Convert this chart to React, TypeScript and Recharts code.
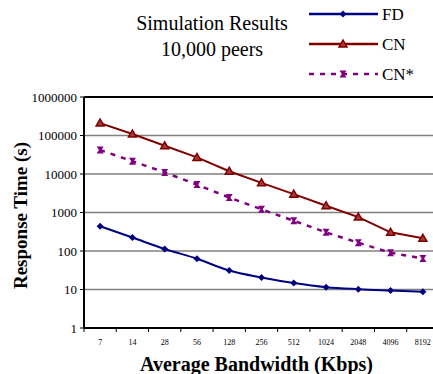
import React from 'react';
import { LineChart, Line, XAxis, YAxis, CartesianGrid, ReferenceLine } from 'recharts';

const categories = ['7', '14', '28', '56', '128', '256', '512', '1024', '2048', '4096', '8192'];
const fdValues = [440, 224, 113, 63, 31, 20.5, 14.7, 11.5, 10.2, 9.4, 8.7];
const cnValues = [210000, 109000, 54000, 27000, 11800, 5900, 3000, 1500, 760, 305, 213];
const cnStarValues = [42000, 21500, 11000, 5300, 2440, 1210, 610, 305, 164, 90, 64];
const yTicks = [1, 10, 100, 1000, 10000, 100000, 1000000];

const FD_COLOR = '#000080';
const CN_COLOR = '#800000';
const CNS_COLOR = '#800080';
const SERIF = '"Liberation Serif", "Times New Roman", serif';

const data = categories.map((c, i) => ({
  i,
  c,
  fd: fdValues[i],
  cn: cnValues[i],
  cnStar: cnStarValues[i],
}));

// tick marks sit between categories, labels sit in the middle of each band
const boundaryTicks = [...categories.map((_, i) => i - 0.5), categories.length - 0.5];

const Diamond = ({ cx, cy, color }: any) => (
  <polygon points={`${cx},${cy - 3.5} ${cx + 3.5},${cy} ${cx},${cy + 3.5} ${cx - 3.5},${cy}`} fill={color} />
);
const Triangle = ({ cx, cy, color }: any) => (
  <polygon
    points={`${cx},${cy - 4} ${cx + 4},${cy + 3} ${cx - 4},${cy + 3}`}
    fill="#a83a3a"
    stroke={color}
    strokeWidth={1.5}
  />
);
const BowTie = ({ cx, cy, color }: any) => (
  <path
    d={`M${cx - 3.5},${cy - 3.5} L${cx + 3.5},${cy - 3.5} L${cx + 1.2},${cy} L${cx + 3.5},${cy + 3.5} L${cx - 3.5},${cy + 3.5} L${cx - 1.2},${cy} Z`}
    fill={color}
  />
);

const BandTick = (props: any) => {
  const { x, y, payload, width } = props;
  const idx = payload.value + 0.5;
  if (idx >= categories.length) return null;
  const half = width ? width / categories.length / 2 : 16;
  return (
    <text x={x + half} y={y + 11} textAnchor="middle" fontSize={8} fontFamily={SERIF} fill="#000">
      {categories[idx]}
    </text>
  );
};

function Legend() {
  const rows = [
    { name: 'FD', color: FD_COLOR, y: 14, dash: undefined, Mark: Diamond },
    { name: 'CN', color: CN_COLOR, y: 44, dash: undefined, Mark: Triangle },
    { name: 'CN*', color: CNS_COLOR, y: 74, dash: '5 6', Mark: BowTie },
  ];
  return (
    <svg width={433} height={90} style={{ position: 'absolute', left: 0, top: 0 }}>
      {rows.map(({ name, color, y, dash, Mark }) => (
        <g key={name}>
          <line x1={309} x2={378} y1={y} y2={y} stroke={color} strokeWidth={2.5} strokeDasharray={dash} />
          <Mark cx={343} cy={y} color={color} />
          <text x={382} y={y + 6} fontSize={17} fontFamily={SERIF} fill="#000">
            {name}
          </text>
        </g>
      ))}
    </svg>
  );
}

export default function App() {
  return (
    <div
      style={{
        position: 'fixed',
        left: 0,
        top: 0,
        width: 433,
        height: 374,
        overflow: 'hidden',
        background: '#fff',
        fontFamily: SERIF,
      }}
    >
      <div
        style={{
          position: 'absolute',
          left: 112,
          width: 200,
          top: 10,
          textAlign: 'center',
          fontSize: 20,
          lineHeight: '26px',
          color: '#000',
        }}
      >
        Simulation Results
        <br />
        10,000 peers
      </div>
      <Legend />
      <div style={{ position: 'absolute', left: 0, top: 0 }}>
        <LineChart width={445} height={374} data={data} margin={{ top: 97, right: 6, bottom: 0, left: 0 }}>
          <CartesianGrid horizontal vertical={false} stroke="#808080" strokeWidth={1.5} />
          <XAxis
            dataKey="i"
            type="number"
            domain={[-0.5, categories.length - 0.5]}
            ticks={boundaryTicks}
            interval={0}
            height={46}
            tick={<BandTick />}
            tickSize={4}
            tickLine={{ stroke: '#000', strokeWidth: 1 }}
            axisLine={{ stroke: '#000', strokeWidth: 2 }}
            label={{
              value: 'Average Bandwidth (Kbps)',
              position: 'insideBottom',
              offset: 3,
              dx: -5,
              fontSize: 20,
              fontWeight: 700,
              fontFamily: SERIF,
              fill: '#000',
            }}
          />
          <YAxis
            scale="log"
            domain={[1, 1000000]}
            ticks={yTicks}
            interval={0}
            allowDataOverflow
            width={84}
            tickSize={4}
            tickMargin={3}
            tick={{ fontSize: 13, fontFamily: SERIF, fill: '#000' }}
            tickLine={{ stroke: '#000', strokeWidth: 1 }}
            axisLine={{ stroke: '#000', strokeWidth: 2 }}
            label={{
              value: 'Response Time (s)',
              angle: -90,
              position: 'insideLeft',
              offset: 20,
              dy: 3,
              style: { textAnchor: 'middle' },
              fontSize: 19,
              fontWeight: 700,
              fontFamily: SERIF,
              fill: '#000',
            }}
          />
          <ReferenceLine y={1000000} stroke="#000" strokeWidth={2} />
          <Line
            dataKey="cnStar"
            stroke={CNS_COLOR}
            strokeWidth={2.5}
            strokeDasharray="5 6"
            isAnimationActive={false}
            dot={(p: any) => <BowTie key={p.index} cx={p.cx} cy={p.cy} color={CNS_COLOR} />}
          />
          <Line
            dataKey="cn"
            stroke={CN_COLOR}
            strokeWidth={2}
            isAnimationActive={false}
            dot={(p: any) => <Triangle key={p.index} cx={p.cx} cy={p.cy} color={CN_COLOR} />}
          />
          <Line
            dataKey="fd"
            stroke={FD_COLOR}
            strokeWidth={2}
            type="monotone"
            isAnimationActive={false}
            dot={(p: any) => <Diamond key={p.index} cx={p.cx} cy={p.cy} color={FD_COLOR} />}
          />
        </LineChart>
      </div>
    </div>
  );
}
